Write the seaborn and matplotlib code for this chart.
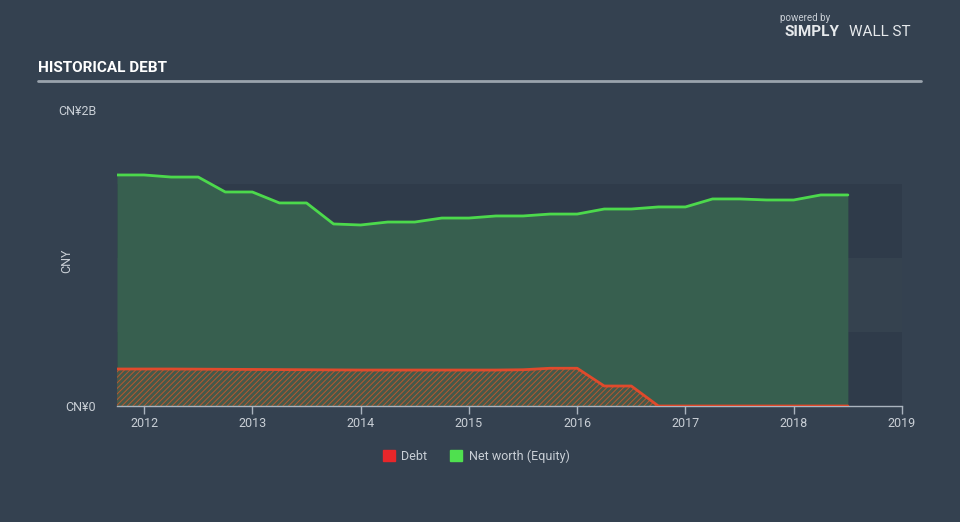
import matplotlib
matplotlib.use("Agg")
import matplotlib.pyplot as plt
import matplotlib.patches as mpatches
import seaborn as sns
import pandas as pd

# ---- data (CNY billions, quarterly) ----
dates = [2011.75, 2012.0, 2012.25, 2012.5, 2012.75, 2013.0, 2013.25, 2013.5,
         2013.75, 2014.0, 2014.25, 2014.5, 2014.75, 2015.0, 2015.25, 2015.5,
         2015.75, 2016.0, 2016.25, 2016.5, 2016.75, 2017.0, 2017.25, 2017.5,
         2017.75, 2018.0, 2018.25, 2018.5]
equity = [1.561, 1.561, 1.547, 1.547, 1.446, 1.446, 1.372, 1.372,
          1.230, 1.223, 1.243, 1.243, 1.270, 1.270, 1.284, 1.284,
          1.297, 1.297, 1.331, 1.331, 1.345, 1.345, 1.399, 1.399,
          1.392, 1.392, 1.426, 1.426]
debt = [0.250, 0.250, 0.250, 0.249, 0.248, 0.247, 0.246, 0.245,
        0.244, 0.243, 0.243, 0.243, 0.243, 0.243, 0.243, 0.245,
        0.255, 0.255, 0.135, 0.135, 0.0, 0.0, 0.0, 0.0,
        0.0, 0.0, 0.0, 0.0]
year_ticks = [2012, 2013, 2014, 2015, 2016, 2017, 2018, 2019]
y_ticks = [0, 2]
y_tick_labels = ["CN¥0", "CN¥2B"]
series_names = ["Debt", "Net worth (Equity)"]

df = pd.DataFrame({"date": dates, "equity": equity, "debt": debt})

BG = "#344150"
BAND = "#2f3b4a"
TXT = "#c9cfd6"
EQ_LINE = "#4cd94c"
EQ_FILL = "#375f4f"
DEBT_LINE = "#e04a2c"

sns.set_theme(style="dark")
plt.rcParams["font.family"] = ["Roboto", "DejaVu Sans"]
plt.rcParams["hatch.linewidth"] = 0.7

fig = plt.figure(figsize=(9.6, 5.22), dpi=100, facecolor=BG)
ax = fig.add_axes([117 / 960, 1 - 406 / 522, (902 - 117) / 960, (406 - 110) / 522])
ax.set_facecolor(BG)

# background bands
ax.axhspan(0.0, 0.5, color=BAND, lw=0, zorder=0)
ax.axhspan(1.0, 1.5, color=BAND, lw=0, zorder=0)
ax.axhspan(0.5, 1.0, color="#35424f", lw=0, zorder=0)
ax.set_xlim(dates[0], 2019)
ax.set_ylim(0, 2)

# equity fill and line
ax.fill_between(df["date"], 0, df["equity"], color=EQ_FILL, lw=0, zorder=1)
sns.lineplot(data=df, x="date", y="equity", ax=ax, color=EQ_LINE, lw=2, zorder=3)

# debt hatched area and line
ax.fill_between(df["date"], 0, df["debt"], facecolor="#45594a", edgecolor="#b8582f",
                hatch="//////", lw=0, zorder=2)
sns.lineplot(data=df, x="date", y="debt", ax=ax, color=DEBT_LINE, lw=2, zorder=3)

# axes styling
for s in ["top", "right", "left"]:
    ax.spines[s].set_visible(False)
ax.spines["bottom"].set_color("#aab4bf")
ax.spines["bottom"].set_linewidth(1)
ax.set_xticks(year_ticks)
ax.set_xticklabels([str(y) for y in year_ticks], color=TXT, fontsize=9)
ax.tick_params(axis="x", direction="out", length=6, width=1, color="#aab4bf", pad=2,
               bottom=True)
ax.set_yticks(y_ticks)
ax.set_yticklabels(y_tick_labels, color=TXT, fontsize=9)
ax.tick_params(axis="y", length=0, pad=15)
ax.set_xlabel("")
ax.set_ylabel("CNY", color=TXT, fontsize=9)
ax.yaxis.set_label_coords((73 - 117) / 785, 0.49)
ax.grid(False)

# title and rule
fig.text(38 / 960, 1 - 68 / 522, "HISTORICAL DEBT", color="white", fontsize=11,
         fontweight="bold", va="center", ha="left", family=["Roboto", "DejaVu Sans"],
         fontstretch="condensed")
fig.add_artist(plt.Line2D([38 / 960, 921 / 960], [1 - 81 / 522, 1 - 81 / 522],
                          color="#9aa3ad", lw=2))

# logo text
fig.text(805 / 960, 1 - 18 / 522, "powered by", color="#c9cfd6", fontsize=7,
         ha="center", va="center")
fig.text(812 / 960, 1 - 32 / 522, "SIMPLY", color="#e6e9ec", fontsize=11,
         fontweight="bold", ha="center", va="center")
fig.text(880 / 960, 1 - 32 / 522, "WALL ST", color="#e6e9ec", fontsize=11,
         ha="center", va="center")

# legend
handles = [mpatches.Patch(color="#e8262a", label=series_names[0]),
           mpatches.Patch(color="#4fe04f", label=series_names[1])]
leg = fig.legend(handles=handles, loc="center", bbox_to_anchor=(476 / 960, 1 - 456 / 522),
                 ncol=2, frameon=False, fontsize=9, handlelength=1.0, handleheight=1.0,
                 columnspacing=1.8, handletextpad=0.5)
for t in leg.get_texts():
    t.set_color(TXT)

fig.savefig("out.png", dpi=100, facecolor=BG)
